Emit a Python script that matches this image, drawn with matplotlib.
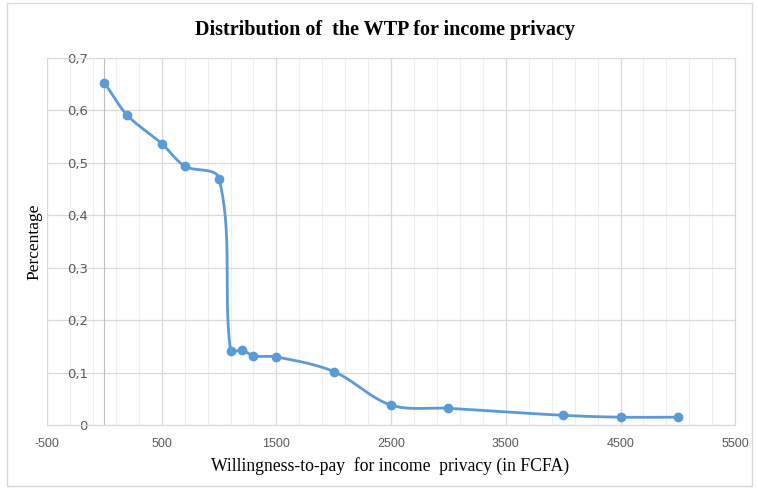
import numpy as np
import matplotlib
matplotlib.use("Agg")
import matplotlib.pyplot as plt
from matplotlib.ticker import FuncFormatter
from matplotlib.patches import Rectangle

plt.rcParams["axes.unicode_minus"] = False

# montant du WTP (FCFA) et part des répondants
wtp = [0, 200, 500, 700, 1000, 1100, 1200, 1300, 1500, 2000, 2500, 3000, 4000, 4500, 5000]
pct = [0.653, 0.591, 0.537, 0.494, 0.470, 0.142, 0.143, 0.132, 0.130, 0.102,
       0.038, 0.032, 0.0185, 0.015, 0.015]

x_ticks = [-500, 500, 1500, 2500, 3500, 4500, 5500]
y_ticks = [0, 0.1, 0.2, 0.3, 0.4, 0.5, 0.6, 0.7]

title = "Distribution of  the WTP for income privacy"
xlab = "Willingness-to-pay  for income  privacy (in FCFA)"
ylab = "Percentage"


def smooth(xs, ys, sx, sy, n=40):
    # lissage Bezier : tangente = direction (p0 -> p2), longueur liée au segment,
    # calculé en pixels (sx, sy = échelle) pour éviter les dépassements
    p = np.column_stack([np.asarray(xs) * sx, np.asarray(ys) * sy]).astype(float)
    m = len(p)
    tan = np.zeros_like(p)
    for i in range(m):
        a = p[max(i - 1, 0)]
        b = p[min(i + 1, m - 1)]
        d = b - a
        tan[i] = d / np.linalg.norm(d)
    out = []
    for i in range(m - 1):
        p1, p2 = p[i], p[i + 1]
        L = np.linalg.norm(p2 - p1)
        c1 = p1 + tan[i] * L / 3.0
        c2 = p2 - tan[i + 1] * L / 3.0
        t = np.linspace(0, 1, n)[:, None]
        seg = ((1 - t) ** 3) * p1 + 3 * ((1 - t) ** 2) * t * c1 + 3 * (1 - t) * t ** 2 * c2 + t ** 3 * p2
        out.append(seg if i == 0 else seg[1:])
    out = np.vstack(out)
    return out[:, 0] / sx, out[:, 1] / sy


fig = plt.figure(figsize=(7.58, 4.88), dpi=100)
ax = fig.add_axes([0.062, 0.129, 0.908, 0.752])

ax.set_xlim(-500, 5500)
ax.set_ylim(0, 0.7)

# échelle en pixels par unité
px = 0.908 * 758 / 6000
py = 0.752 * 488 / 0.7
cx, cy = smooth(wtp, pct, px, py)
ax.plot(cx, cy, color="#5b9bd5", lw=2.0, zorder=3)
ax.plot(wtp, pct, "o", color="#5b9bd5", ms=6, zorder=4)

ax.set_xticks(x_ticks)
ax.set_xticks(np.arange(-500, 5501, 200), minor=True)
ax.set_yticks(y_ticks)

ax.grid(which="major", color="#d9d9d9", lw=0.9)
ax.grid(which="minor", axis="x", color="#efefef", lw=0.8)
ax.set_axisbelow(True)

ax.yaxis.set_major_formatter(FuncFormatter(lambda v, _: "0" if v == 0 else f"{v:.1f}".replace(".", ",")))
ax.tick_params(which="both", length=0)
ax.tick_params(axis="y", pad=12, labelsize=9.5, labelcolor="#595959")
ax.tick_params(axis="x", pad=9, labelsize=9, labelcolor="#595959")
for lab in ax.get_xticklabels() + ax.get_yticklabels():
    lab.set_family("Liberation Sans")

for s in ["top", "right", "bottom"]:
    ax.spines[s].set_color("#d9d9d9")
ax.spines["left"].set_position(("data", 0))
ax.spines["left"].set_color("#bfbfbf")

fig.text(0.508, 0.938, title, ha="center", va="center", fontsize=14.5,
         fontweight="bold", family="Liberation Serif")
fig.text(0.515, 0.045, xlab, ha="center", va="center", fontsize=12.7, family="Liberation Serif")
fig.text(0.046, 0.505, ylab, ha="center", va="center", rotation=90, fontsize=12.5,
         family="Liberation Serif")

fig.patches.append(Rectangle((0.009, 0.004), 0.983, 0.99, transform=fig.transFigure,
                             fill=False, edgecolor="#d9d9d9", lw=1))

fig.savefig("out.png", dpi=100)
